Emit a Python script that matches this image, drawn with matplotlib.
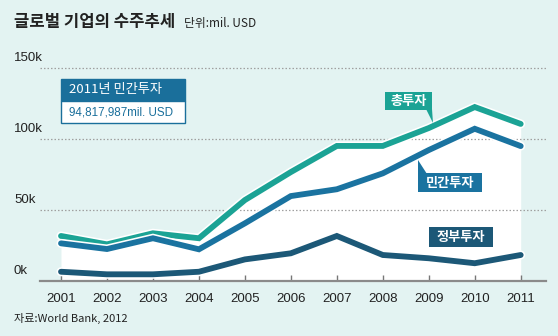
import matplotlib
matplotlib.use("Agg")
import matplotlib.pyplot as plt
import matplotlib.patheffects as pe
from matplotlib.patches import Rectangle, Polygon

years = [2001, 2002, 2003, 2004, 2005, 2006, 2007, 2008, 2009, 2010, 2011]
total = [31.5, 25.6, 33.4, 29.9, 56.8, 76.5, 94.9, 94.9, 107.5, 122.3, 110.4]
private = [26.3, 22.3, 29.9, 22.1, 40.4, 59.6, 64.4, 75.6, 92.0, 107.0, 94.8]
government = [6.3, 4.5, 4.5, 6.3, 15.0, 19.3, 31.5, 18.1, 15.8, 12.3, 18.1]
ytick_vals = [0, 50, 100, 150]
ytick_labels = ["0k", "50k", "100k", "150k"]

KR = ["Noto Sans CJK KR", "DejaVu Sans"]
NUM = ["Liberation Sans", "Noto Sans CJK KR"]
plt.rcParams["font.family"] = KR

BG = "#e3f3f2"
C_TOT = "#1ba395"
C_PRI = "#1a73a0"
C_GOV = "#1c5877"
C_HEAD = "#1a6f9b"

W, H = 558, 336
fig = plt.figure(figsize=(W / 100, H / 100), dpi=100)
fig.patch.set_facecolor(BG)

def fx(x):
    return x / W

def fy(y):
    return 1 - y / H

# axes placement in pixels
L, R, B, T = 40, 546, 280.7, 50
ax = fig.add_axes([fx(L), fy(B), (R - L) / W, (B - T) / H])
ax.set_facecolor("none")
ppy = 45.97
ax.set_xlim(2001 - (61 - L) / ppy, 2011 + (R - 520.7) / ppy)
ax.set_ylim(0, (B - T) / 71 * 50)

for s in ["top", "right", "left"]:
    ax.spines[s].set_visible(False)
ax.spines["bottom"].set_color("#8a8a8a")
ax.spines["bottom"].set_linewidth(1.6)
ax.set_yticks([])
ax.set_xticks(years)
ax.set_xticklabels([str(y) for y in years], family=NUM, fontsize=9.5, color="#222222")
ax.tick_params(axis="x", direction="in", length=4, width=1, color="#777777", pad=9)

# white area under total
ax.fill_between(years, total, 0, color="white", zorder=1, lw=0)

# grid lines
for v in ytick_vals[1:]:
    ax.axhline(v, color="#a0a0a0", lw=0.9, ls=(0, (1.2, 1.6)), zorder=2)

fx_eff = lambda: [pe.Stroke(linewidth=6.5, foreground="white"), pe.Normal()]
for vals, c in [(total, C_TOT), (private, C_PRI), (government, C_GOV)]:
    ax.plot(years, vals, color=c, lw=4.2, solid_capstyle="round",
            solid_joinstyle="miter", zorder=4, path_effects=fx_eff())

# y labels
for v, lab in zip(ytick_vals, ytick_labels):
    py = B - v / 50 * 71
    fig.text(fx(14), fy(py - 10), lab, family=NUM, fontsize=9.5, color="#222222",
             ha="left", va="center")

# title
fig.text(fx(14), fy(22), "글로벌 기업의 수주추세", fontsize=12, fontweight="bold",
         color="#222222", ha="left", va="center")
fig.text(fx(184), fy(23), "단위:mil. USD", fontsize=8.5, color="#222222",
         ha="left", va="center")
fig.text(fx(14), fy(318), "자료:World Bank, 2012", fontsize=8, color="#222222",
         ha="left", va="center")

# annotation box
fig.patches.append(Rectangle((fx(61), fy(101)), 124 / W, 22 / H, transform=fig.transFigure,
                             facecolor=C_HEAD, edgecolor=C_HEAD, lw=1, zorder=5))
fig.patches.append(Rectangle((fx(61), fy(123)), 124 / W, 22 / H, transform=fig.transFigure,
                             facecolor="white", edgecolor=C_HEAD, lw=1, zorder=5))
fig.text(fx(69), fy(90), "2011년 민간투자", fontsize=9.5, color="white",
         ha="left", va="center", zorder=6)
fig.text(fx(69), fy(112.5), "94,817,987mil. USD", family=NUM, fontsize=8.4,
         color=C_HEAD, ha="left", va="center", zorder=6)

# series labels
def label_box(x0, y0, x1, y1, text, color, tail=None):
    fig.patches.append(Rectangle((fx(x0), fy(y1)), (x1 - x0) / W, (y1 - y0) / H,
                                 transform=fig.transFigure, facecolor=color,
                                 edgecolor="none", zorder=5))
    if tail is not None:
        fig.patches.append(Polygon([(fx(a), fy(b)) for a, b in tail], closed=True,
                                   transform=fig.transFigure, facecolor=color,
                                   edgecolor="none", zorder=5))
    fig.text(fx((x0 + x1) / 2), fy((y0 + y1) / 2 + 0.5), text, fontsize=9.5,
             fontweight="bold", color="white", ha="center", va="center", zorder=6)

label_box(385, 92, 432, 110, "총투자", C_TOT, tail=[(426, 109), (432, 109), (433, 123)])
label_box(418, 173, 482, 192, "민간투자", C_PRI, tail=[(418, 160), (418, 174), (427, 174)])
label_box(429, 227, 493, 247, "정부투자", C_GOV)

fig.savefig("out.png", dpi=100, facecolor=BG)
